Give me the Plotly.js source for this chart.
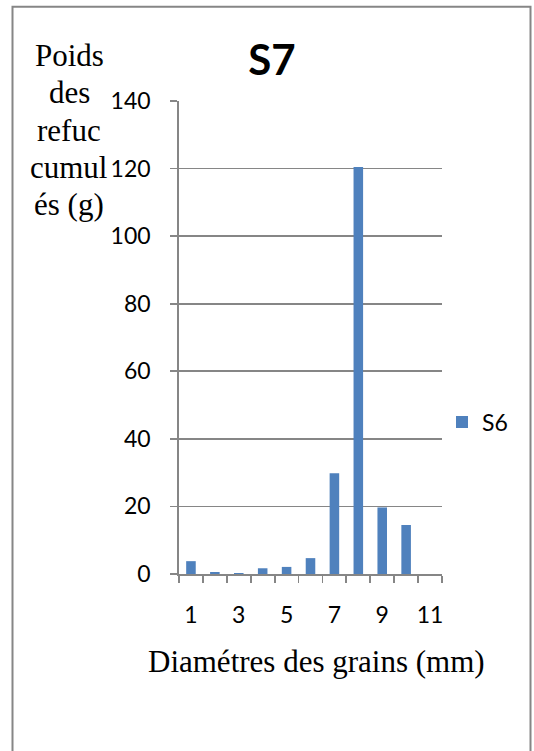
<!DOCTYPE html>
<html>
<head>
<meta charset="utf-8">
<script src="https://cdn.plot.ly/plotly-3.0.1.min.js"></script>
<style>
  html, body { margin: 0; padding: 0; background: #ffffff; }
  #chart { width: 534px; height: 751px; }
</style>
</head>
<body>
<div id="chart"></div>
<script>
// ---- Data ----
const categories = [1, 2, 3, 4, 5, 6, 7, 8, 9, 10, 11];
const seriesName = "S6";
const seriesValues = [3.8, 0.6, 0.3, 1.7, 2.1, 4.7, 29.8, 120.5, 19.7, 14.5, 0];
const xTickValues = [1, 3, 5, 7, 9, 11];
const xTickLabels = ["1", "3", "5", "7", "9", "11"];
const yTickValues = [0, 20, 40, 60, 80, 100, 120, 140];
const chartTitle = "S7";
const yTitleLines = ["Poids", "des", "refuc", "cumul", "és (g)"];
const xTitle = "Diamétres des grains (mm)";

// ---- Geometry helpers (plot area in pixels) ----
const W = 534, H = 751;
const L = 179, R = 442, T = 100.7, B = 574;
const px2x = p => (p - L) / (R - L);
const px2y = p => (B - p) / (B - T);

const grey = "#868686";
const tickFont = { family: "Lato, 'Open Sans', sans-serif", size: 23, color: "#000000" };
const serif = { family: "'Liberation Serif', 'Times New Roman', serif", size: 31, color: "#000000" };

const trace = {
  type: "bar",
  name: seriesName,
  x: categories,
  y: seriesValues,
  marker: { color: "#4F81BD", line: { width: 0 } },
  showlegend: true
};

const yLineCenters = [55, 92, 130, 167, 204];
const annotations = yTitleLines.map((t, i) => ({
  text: t, xref: "paper", yref: "paper",
  x: px2x(69), y: px2y(yLineCenters[i]),
  xanchor: "center", yanchor: "middle",
  showarrow: false, font: serif
}));
annotations.push({
  text: xTitle, xref: "paper", yref: "paper",
  x: px2x(316), y: px2y(662),
  xanchor: "center", yanchor: "middle",
  showarrow: false, font: serif
});

const layout = {
  width: W, height: H,
  margin: { l: L, r: W - R, t: T, b: H - B, pad: 0 },
  paper_bgcolor: "#ffffff",
  plot_bgcolor: "#ffffff",
  bargap: 0.6,
  title: {
    text: "<b>" + chartTitle + "</b>",
    font: { family: "Lato, 'Open Sans', sans-serif", size: 42, color: "#000000" },
    x: 272 / W, xanchor: "center",
    y: 1 - 60 / H, yanchor: "middle"
  },
  xaxis: {
    range: [0.5, 11.5],
    tickmode: "array",
    tickvals: xTickValues,
    ticktext: xTickLabels,
    ticks: "",
    showgrid: false,
    zeroline: false,
    showline: true, linecolor: grey, linewidth: 1.8,
    tickfont: tickFont,
    ticklabelstandoff: 20,
    minor: { ticks: "outside", tick0: 0.5, dtick: 1, ticklen: 7, tickcolor: grey, tickwidth: 1.8, showgrid: false },
    fixedrange: true
  },
  yaxis: {
    range: [0, 140],
    tickmode: "array",
    tickvals: yTickValues,
    ticks: "outside", ticklen: 7, tickcolor: grey, tickwidth: 1.8,
    showgrid: true, gridcolor: grey, gridwidth: 1.8,
    zeroline: false,
    showline: true, linecolor: grey, linewidth: 1.8,
    tickfont: tickFont,
    ticklabelstandoff: 15,
    fixedrange: true
  },
  legend: {
    x: px2x(442), xanchor: "left",
    y: px2y(422), yanchor: "middle",
    font: tickFont,
    itemwidth: 30,
    bgcolor: "rgba(0,0,0,0)"
  },
  shapes: [{
    type: "rect", xref: "paper", yref: "paper",
    x0: px2x(12.5), x1: px2x(530.5),
    y0: px2y(790), y1: px2y(6.5),
    line: { color: grey, width: 2 },
    fillcolor: "rgba(0,0,0,0)",
    layer: "below"
  }],
  annotations: annotations
};

Plotly.newPlot("chart", [trace], layout, { staticPlot: true, displayModeBar: false });
</script>
</body>
</html>
